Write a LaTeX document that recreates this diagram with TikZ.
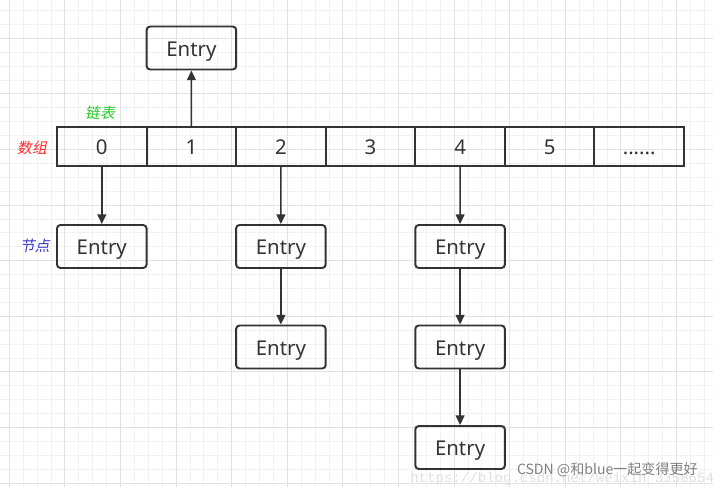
\documentclass[tikz,border=0pt]{standalone}
\usepackage{fontspec}
\setmainfont{Noto Sans}
\newfontfamily\cjk[FakeSlant=0.2]{Noto Sans CJK SC}
\newfontfamily\cjkup{Noto Sans CJK SC}
\newfontfamily\urlfont{Liberation Mono}
\usepackage{xcolor}
\usetikzlibrary{arrows.meta}
\definecolor{ink}{HTML}{333333}
\definecolor{gridminor}{HTML}{F1F1F1}
\definecolor{gridmajor}{HTML}{E2E2E2}
\definecolor{arraytag}{HTML}{FF2A2A}
\definecolor{listtag}{HTML}{22CC22}
\definecolor{nodetag}{HTML}{3838C8}

\begin{document}
\begin{tikzpicture}[
  x=0.025cm, y=-0.025cm,
  cell/.style={draw=ink, line width=1.4pt, minimum width=2.24cm,
               minimum height=0.975cm, inner sep=0pt, text=ink,
               text height=12.5pt, text depth=0.7pt,
               font=\fontsize{14.5}{16}\selectfont},
  entry/.style={cell, rounded corners=2.5pt, minimum height=1.075cm},
  tag/.style={font=\cjk\fontsize{10.5}{12}\selectfont},
  link/.style={draw=ink, line width=1.1pt,
               -{Triangle[length=2.4mm, width=2.2mm]}}
]
\useasboundingbox (0,0) rectangle (713,487);
\fill[white] (0,0) rectangle (713,487);
% background grid
\foreach \i in {0,...,50} \draw[gridminor, line width=0.6pt] (9.3+13.9*\i,0) -- (9.3+13.9*\i,487);
\foreach \j in {0,...,34} \draw[gridminor, line width=0.6pt] (0,10.5+13.9*\j) -- (713,10.5+13.9*\j);
\foreach \i in {0,...,12} \draw[gridmajor, line width=0.6pt] (9.3+55.6*\i,0) -- (9.3+55.6*\i,487);
\foreach \j in {0,...,8} \draw[gridmajor, line width=0.6pt] (0,38.3+55.6*\j) -- (713,38.3+55.6*\j);

% array cells
\foreach \i in {0,...,5} \node[cell] (c\i) at (101.8+89.57*\i,146.5) {\i};
\node[cell] (c6) at (639.2,146.5) {......};

% entries
\node[entry] (top) at (191.4, 48)    {Entry};
\node[entry] (n0)  at (101.8, 246.5) {Entry};
\node[entry] (n2a) at (280.9, 246.5) {Entry};
\node[entry] (n2b) at (280.9, 347)   {Entry};
\node[entry] (n4a) at (460.1, 246.5) {Entry};
\node[entry] (n4b) at (460.1, 347)   {Entry};
\node[entry] (n4c) at (460.1, 447.5) {Entry};

% labels
\node[tag, text=listtag]  (lbllist)  at (100,113) {链表};
\node[tag, text=arraytag] (lblarray) at (32,148)  {数组};
\node[tag, text=nodetag]  (lblnode)  at (35,246)  {节点};

% links
\draw[link] (c1)  -- (top);
\draw[link] (c0)  -- (n0);
\draw[link] (c2)  -- (n2a);
\draw[link] (n2a) -- (n2b);
\draw[link] (c4)  -- (n4a);
\draw[link] (n4a) -- (n4b);
\draw[link] (n4b) -- (n4c);

% watermark
\node[anchor=west, text=black!12, font=\urlfont\fontsize{10}{12}\selectfont, inner sep=0pt] (url) at (410,479) {https://blog.csdn.net/weixin\_33586540};
\node[anchor=east, text=black!50, font=\cjkup\fontsize{10}{12}\selectfont, inner sep=0pt] (mark) at (698,470) {CSDN @和blue一起变得更好};
\end{tikzpicture}
\end{document}
